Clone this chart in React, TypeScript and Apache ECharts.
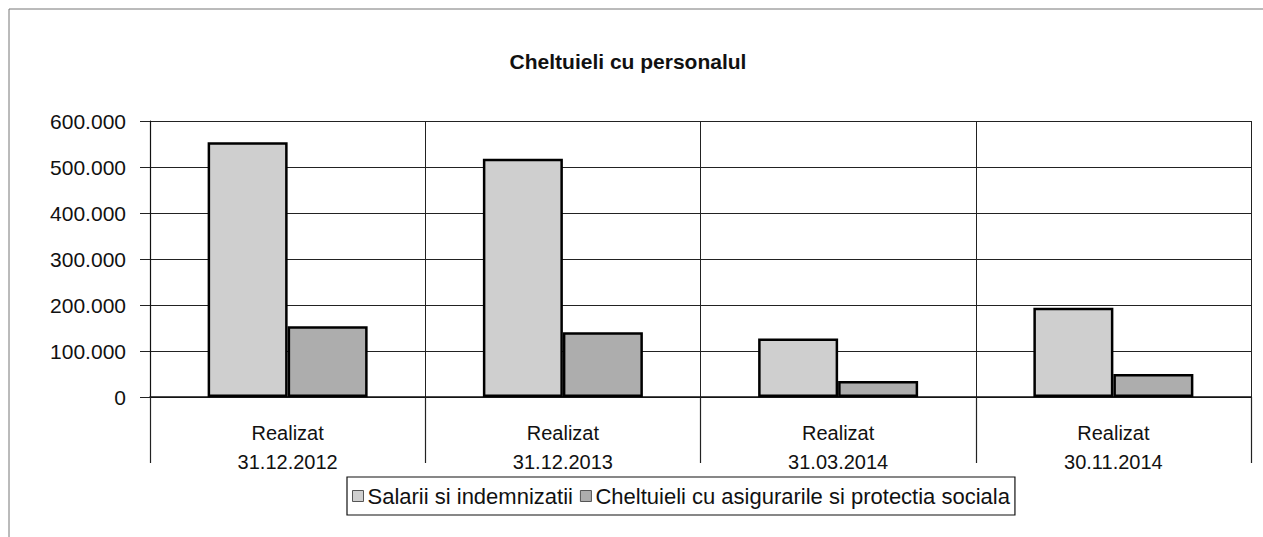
import React, { useEffect, useRef } from "react";
import * as echarts from "echarts";

const categories = ["Realizat\n31.12.2012", "Realizat\n31.12.2013", "Realizat\n31.03.2014", "Realizat\n30.11.2014"];
const salarii = [554000, 518000, 127000, 194000];
const cheltuieliAsigurari = [154000, 141000, 35000, 50000];
const seriesNames = ["Salarii si indemnizatii", "Cheltuieli cu asigurarile si protectia sociala"];
const chartTitle = "Cheltuieli cu personalul";

const FONT = "'Liberation Sans', Arial, sans-serif";

function fmt(v: number): string {
  return String(v).replace(/\B(?=(\d{3})+(?!\d))/g, ".");
}

export default function App() {
  const ref = useRef<HTMLDivElement>(null);
  useEffect(() => {
    if (!ref.current) return;
    const chart = echarts.init(ref.current, undefined, { renderer: "svg" });
    chart.setOption({
      animation: false,
      backgroundColor: "#ffffff",
      title: {
        text: chartTitle,
        left: 623,
        top: 46,
        textAlign: "center",
        textStyle: { fontFamily: FONT, fontSize: 21, fontWeight: "bold", color: "#111" },
      },
      legend: {
        left: 347,
        top: 477,
        padding: [8, 5, 8, 5],
        borderColor: "#111",
        borderWidth: 1.2,
        itemWidth: 11,
        itemHeight: 11,
        itemGap: 7,
        icon: "rect",
        itemStyle: { borderColor: "#555", borderWidth: 1 },
        textStyle: { fontFamily: FONT, fontSize: 22, color: "#111", padding: [0, 0, 0, -1] },
        data: seriesNames,
      },
      grid: { left: 150, right: 12, top: 121, bottom: 140, containLabel: false },
      xAxis: {
        type: "category",
        data: categories,
        boundaryGap: true,
        axisLine: { show: true, lineStyle: { color: "#111", width: 1.5 } },
        axisTick: { show: true, interval: 0, length: 66, lineStyle: { color: "#222", width: 1.2 } },
        splitLine: { show: true, interval: 0, lineStyle: { color: "#222", width: 1 } },
        axisLabel: {
          interval: 0,
          margin: 21,
          fontFamily: FONT,
          fontSize: 20,
          lineHeight: 29,
          color: "#111",
        },
      },
      yAxis: {
        type: "value",
        min: 0,
        max: 600000,
        interval: 100000,
        axisLine: { show: true, lineStyle: { color: "#111", width: 1.2 } },
        axisTick: { show: true, length: 10, lineStyle: { color: "#222", width: 1 } },
        splitLine: { show: true, lineStyle: { color: "#222", width: 1 } },
        axisLabel: {
          margin: 24,
          fontFamily: FONT,
          fontSize: 21,
          color: "#111",
          formatter: (v: number) => fmt(v),
        },
      },
      series: [
        {
          name: seriesNames[0],
          type: "bar",
          data: salarii,
          barWidth: 80,
          barGap: "0%",
          itemStyle: { color: "#cfcfcf", borderColor: "#000", borderWidth: 2.5 },
        },
        {
          name: seriesNames[1],
          type: "bar",
          data: cheltuieliAsigurari,
          barWidth: 80,
          barGap: "0%",
          itemStyle: { color: "#adadad", borderColor: "#000", borderWidth: 2.5 },
        },
      ],
      graphic: [
        { type: "line", shape: { x1: 9, y1: 9, x2: 1263, y2: 9 }, style: { stroke: "#777", lineWidth: 1 } },
        { type: "line", shape: { x1: 9, y1: 9, x2: 9, y2: 537 }, style: { stroke: "#777", lineWidth: 1 } },
      ],
    });
    return () => chart.dispose();
  }, []);
  return (
    <div
      ref={ref}
      style={{ position: "fixed", left: 0, top: 0, width: 1263, height: 537 }}
    />
  );
}
